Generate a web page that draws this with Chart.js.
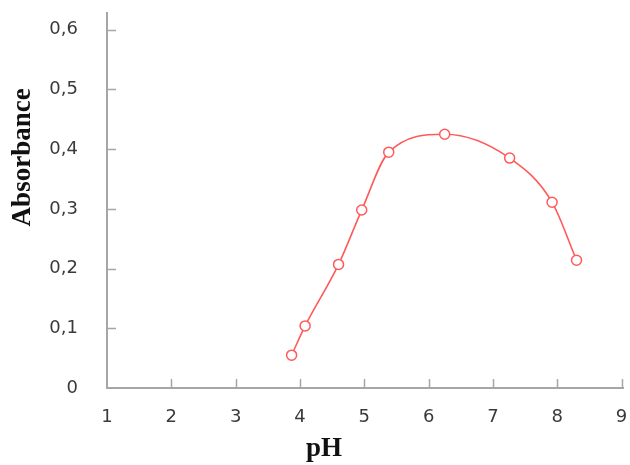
<!DOCTYPE html>
<html lang="en">
<head>
    <meta charset="UTF-8">
    <title>Absorbance vs pH</title>
    <script src="https://cdn.jsdelivr.net/npm/chart.js"></script>
    <style>
        html, body { margin: 0; padding: 0; background: #fff; }
        #chart { display: block; }
    </style>
</head>
<body>
    <canvas id="chart" width="630" height="465"></canvas>

    <script>
        // values
        const phValues = [3.87, 4.08, 4.60, 4.96, 5.38, 6.25, 7.26, 7.92, 8.30];
        const absorbance = [0.055, 0.104, 0.207, 0.298, 0.395, 0.425, 0.385, 0.311, 0.214];
        const xTicks = [1, 2, 3, 4, 5, 6, 7, 8, 9];
        const yTicks = [0, 0.1, 0.2, 0.3, 0.4, 0.5, 0.6];

        const axisColor = '#a6a6a6';
        const lineColor = '#ff5a5a';
        const titleFont = 'bold 27px "Liberation Serif"';

        // tick marks drawn inward from the axis lines, like the original
        const innerTicks = {
            id: 'innerTicks',
            beforeDatasetsDraw(chart) {
                const { ctx, chartArea, scales } = chart;
                ctx.save();
                ctx.strokeStyle = axisColor;
                ctx.lineWidth = 1.5;
                ctx.beginPath();
                xTicks.slice(1).forEach(v => {
                    const px = Math.round(scales.x.getPixelForValue(v)) + 0.5;
                    ctx.moveTo(px, chartArea.bottom);
                    ctx.lineTo(px, chartArea.bottom - 9);
                });
                yTicks.slice(1).forEach(v => {
                    const py = Math.round(scales.y.getPixelForValue(v)) + 0.5;
                    ctx.moveTo(chartArea.left, py);
                    ctx.lineTo(chartArea.left + 9, py);
                });
                ctx.stroke();
                ctx.restore();
            }
        };

        // axis titles sit off-centre in the original, so place them by hand
        const axisTitles = {
            id: 'axisTitles',
            afterDraw(chart) {
                const { ctx, chartArea } = chart;
                const w = chartArea.right - chartArea.left;
                const h = chartArea.bottom - chartArea.top;
                ctx.save();
                ctx.fillStyle = '#111';
                ctx.font = titleFont;
                ctx.textAlign = 'center';
                ctx.textBaseline = 'alphabetic';
                ctx.fillText('pH', chartArea.left + w * 0.42, 456);
                ctx.translate(30, chartArea.top + h * 0.385);
                ctx.rotate(-Math.PI / 2);
                ctx.fillText('Absorbance', 0, 0);
                ctx.restore();
            }
        };

        const ctx = document.getElementById('chart').getContext('2d');
        new Chart(ctx, {
            type: 'line',
            data: {
                datasets: [{
                    data: phValues.map((x, i) => ({ x: x, y: absorbance[i] })),
                    borderColor: lineColor,
                    borderWidth: 1.6,
                    cubicInterpolationMode: 'monotone',
                    pointRadius: 5,
                    pointBorderWidth: 1.5,
                    pointBackgroundColor: '#fff',
                    pointBorderColor: lineColor
                }]
            },
            options: {
                responsive: false,
                animation: false,
                layout: { padding: { top: 13, right: -5, bottom: 0, left: 0 } },
                plugins: {
                    legend: { display: false },
                    tooltip: { enabled: false }
                },
                scales: {
                    x: {
                        type: 'linear',
                        min: 1,
                        max: 9.03,
                        afterBuildTicks: s => { s.ticks = xTicks.map(v => ({ value: v })); },
                        afterFit: s => { s.height = 77; s.paddingLeft = 0; s.paddingRight = 0; },
                        grid: { drawOnChartArea: false, drawTicks: false },
                        border: { color: axisColor, width: 2 },
                        ticks: {
                            padding: 19,
                            color: '#3a3a3a',
                            font: { family: 'DejaVu Sans', size: 18 },
                            callback: v => String(v)
                        }
                    },
                    y: {
                        min: 0,
                        max: 0.628,
                        afterBuildTicks: s => { s.ticks = yTicks.map(v => ({ value: v })); },
                        afterFit: s => { s.width = 107; s.paddingTop = 0; s.paddingBottom = 0; },
                        grid: { drawOnChartArea: false, drawTicks: false },
                        border: { color: axisColor, width: 2 },
                        ticks: {
                            padding: 29,
                            color: '#3a3a3a',
                            font: { family: 'DejaVu Sans', size: 18 },
                            callback: v => v === 0 ? '0' : v.toFixed(1).replace('.', ',')
                        }
                    }
                }
            },
            plugins: [innerTicks, axisTitles]
        });
    </script>
</body>
</html>
